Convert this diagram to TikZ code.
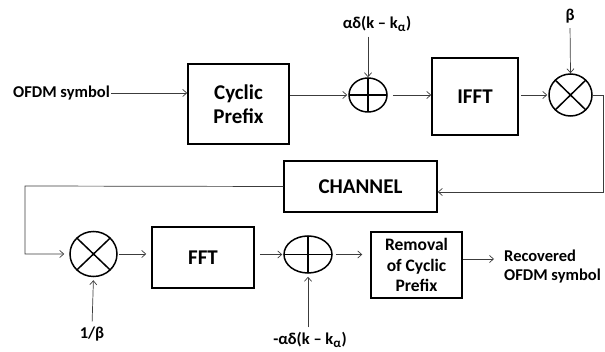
\documentclass[tikz,border=0pt]{standalone}
\usepackage{fontspec}
\setmainfont{Carlito}
\usetikzlibrary{arrows.meta, shapes.geometric, calc, positioning}
\definecolor{wireGrey}{HTML}{3C3C3C}
\tikzset{
  block/.style      = {draw, line width=1.5pt, align=center,
                       font=\bfseries\fontsize{21}{24}\selectfont},
  smallblock/.style = {block, font=\bfseries\fontsize{17.5}{20.5}\selectfont},
  lbl/.style        = {font=\bfseries\fontsize{16.5}{19}\selectfont, inner sep=1pt},
  wire/.style       = {wireGrey, line width=0.7pt},
  conn/.style       = {wire, -{Straight Barb[length=4pt, width=7pt]}},
  junction/.style   = {ellipse, draw, line width=1.5pt, inner sep=0pt},
  sumnode/.style    = {junction, path picture={
                         \draw[line width=1.5pt]
                           (path picture bounding box.north) -- (path picture bounding box.south)
                           (path picture bounding box.west) -- (path picture bounding box.east);}},
  mulnode/.style    = {junction, path picture={
                         \draw[line width=1.5pt]
                           (path picture bounding box.south west) -- (path picture bounding box.north east)
                           (path picture bounding box.north west) -- (path picture bounding box.south east);}},
}
\begin{document}
\begin{tikzpicture}[x=1pt, y=-1pt]
  \useasboundingbox (0,0) rectangle (605,352);

  % transmitter
  \node[lbl, anchor=west] (insym) at (12,93) {OFDM symbol};
  \node[block, minimum width=101pt, minimum height=80pt] (cp) at (238.5,104) {Cyclic\\Prefix};
  \node[sumnode, minimum width=38pt, minimum height=34pt] (add1) at (368,95) {};
  \node[lbl] (alpha1) at (377,24) {αδ(k – k\textsubscript{\fontsize{13}{13}\selectfont α})};
  \node[block, minimum width=86pt, minimum height=77pt] (ifft) at (475,96.5) {IFFT};
  \node[mulnode, minimum width=43pt, minimum height=42pt] (mul1) at (570.5,95) {};
  \node[lbl] (beta) at (570,16) {β};

  \node[block, minimum width=153pt, minimum height=51pt] (chan) at (360.5,186.5) {CHANNEL};

  % receiver
  \node[mulnode, minimum width=47pt, minimum height=45pt] (mul2) at (93.5,254) {};
  \node[lbl] (invbeta) at (92,334) {1/β};
  \node[block, minimum width=102pt, minimum height=61pt] (fft) at (203,257.5) {FFT};
  \node[sumnode, minimum width=48pt, minimum height=37pt] (add2) at (308,254.5) {};
  \node[lbl] (alpha2) at (310,340) {-αδ(k – k\textsubscript{\fontsize{13}{13}\selectfont α})};
  \node[smallblock, minimum width=91pt, minimum height=66pt] (rem) at (416.5,265) {Removal\\of Cyclic\\Prefix};
  \node[lbl, anchor=west, align=left] (outsym) at (503,267) {Recovered\\OFDM symbol};

  \coordinate (turnR) at (603,95);
  \coordinate (turnL) at (25,186);

  \draw[conn] (insym.east) -- (insym -| cp.west);
  \draw[conn, shorten >=1pt] (add1 -| cp.east) -- (add1.west);
  \draw[conn, shorten <=4pt] (alpha1.south -| add1) -- (add1.north);
  \draw[conn, shorten <=5pt] (add1.east) -- (add1 -| ifft.west);
  \draw[conn, shorten <=2pt, shorten >=1pt] (mul1 -| ifft.east) -- (mul1.west);
  \draw[conn, shorten <=4pt] (beta.south) -- (mul1.north);
  \draw[conn] (mul1.east) -- (turnR) |- ([yshift=-5.5pt]chan.east);

  \draw[conn, shorten >=5pt] (chan.west) -- (turnL) |- (mul2.west);
  \draw[conn, shorten <=4pt, shorten >=3pt] (invbeta.north) -- (mul2.south);
  \draw[conn, shorten <=1pt, shorten >=5pt] (mul2.east) -- (mul2 -| fft.west);
  \draw[conn, shorten <=5pt, shorten >=1pt] (add2 -| fft.east) -- (add2.west);
  \draw[conn, shorten <=4pt, shorten >=3pt] (alpha2.north -| add2) -- (add2.south);
  \draw[conn, shorten <=3pt, shorten >=8pt] (add2.east) -- (add2 -| rem.west);
  \draw[conn, shorten >=9pt] ([yshift=6pt]rem.east) -- ([yshift=6pt]rem.east -| outsym.west);
\end{tikzpicture}
\end{document}
